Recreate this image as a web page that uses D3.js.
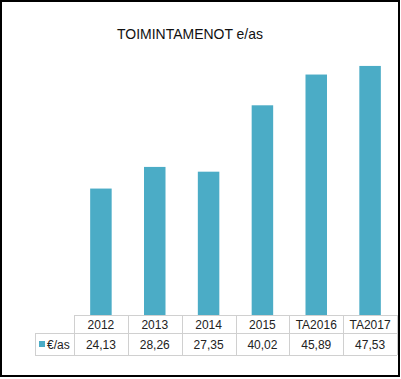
<!DOCTYPE html>
<html><head><meta charset="utf-8">
<script src="https://cdn.jsdelivr.net/npm/d3@7/dist/d3.min.js"></script>
<style>body{margin:0;background:#fff}svg{display:block;font-family:"Liberation Sans",Arial,sans-serif}</style>
</head><body>
<script>
const categories = ["2012","2013","2014","2015","TA2016","TA2017"];
const values = [24.13,28.26,27.35,40.02,45.89,47.53];
const valueLabels = ["24,13","28,26","27,35","40,02","45,89","47,53"];
const seriesName = "€/as";
const title = "TOIMINTAMENOT e/as";

const W=401,H=379;
const svg=d3.select("body").append("svg").attr("width",W).attr("height",H);
svg.append("rect").attr("width",W).attr("height",H).attr("fill","#fff");

const x=d3.scaleBand().domain(categories).range([74,397]).paddingInner(0).paddingOuter(0);
const y=d3.scaleLinear().domain([0,50]).range([315,53]);
const color="#4bacc6";
const bw=21.5;

svg.selectAll("rect.bar").data(values).enter().append("rect").attr("class","bar")
  .attr("x",(d,i)=>x(categories[i])+x.bandwidth()/2-bw/2)
  .attr("width",bw)
  .attr("y",d=>y(d)).attr("height",d=>y(0)-y(d)).attr("fill",color);

svg.append("text").attr("x",190).attr("y",39).attr("text-anchor","middle")
  .attr("font-size",15).attr("fill","#111")
  .attr("textLength",146).attr("lengthAdjust","spacingAndGlyphs").text(title);

// table
const g=svg.append("g").attr("stroke","#d0d0d0").attr("stroke-width",1).attr("fill","none");
const r0=315,r1=333,r2=355,leftCell=35;
g.append("line").attr("x1",74).attr("x2",397).attr("y1",r0+0.5).attr("y2",r0+0.5);
g.append("line").attr("x1",leftCell).attr("x2",397).attr("y1",r1+0.5).attr("y2",r1+0.5);
g.append("line").attr("x1",leftCell).attr("x2",397).attr("y1",r2+0.5).attr("y2",r2+0.5);
g.append("line").attr("x1",leftCell+0.5).attr("x2",leftCell+0.5).attr("y1",r1).attr("y2",r2);
const edges=categories.map(c=>x(c)).concat([x.range()[1]]);
g.selectAll("line.v").data(edges).enter().append("line")
  .attr("x1",d=>Math.round(d)+0.5).attr("x2",d=>Math.round(d)+0.5).attr("y1",r0).attr("y2",r2);

svg.selectAll("text.cat").data(categories).enter().append("text")
  .attr("x",d=>x(d)+x.bandwidth()/2).attr("y",328.5).attr("text-anchor","middle")
  .attr("font-size",12).attr("fill","#222").text(d=>d);
svg.selectAll("text.val").data(valueLabels).enter().append("text")
  .attr("x",(d,i)=>x(categories[i])+x.bandwidth()/2).attr("y",348.5).attr("text-anchor","middle")
  .attr("font-size",12).attr("fill","#222").text(d=>d);
svg.append("rect").attr("x",39).attr("y",341).attr("width",6).attr("height",6).attr("fill",color);
svg.append("text").attr("x",47).attr("y",348.5).attr("font-size",12).attr("fill","#222").text(seriesName);

svg.append("rect").attr("x",1).attr("y",1).attr("width",398).attr("height",375)
  .attr("fill","none").attr("stroke","#000").attr("stroke-width",2);
</script>
</body></html>
